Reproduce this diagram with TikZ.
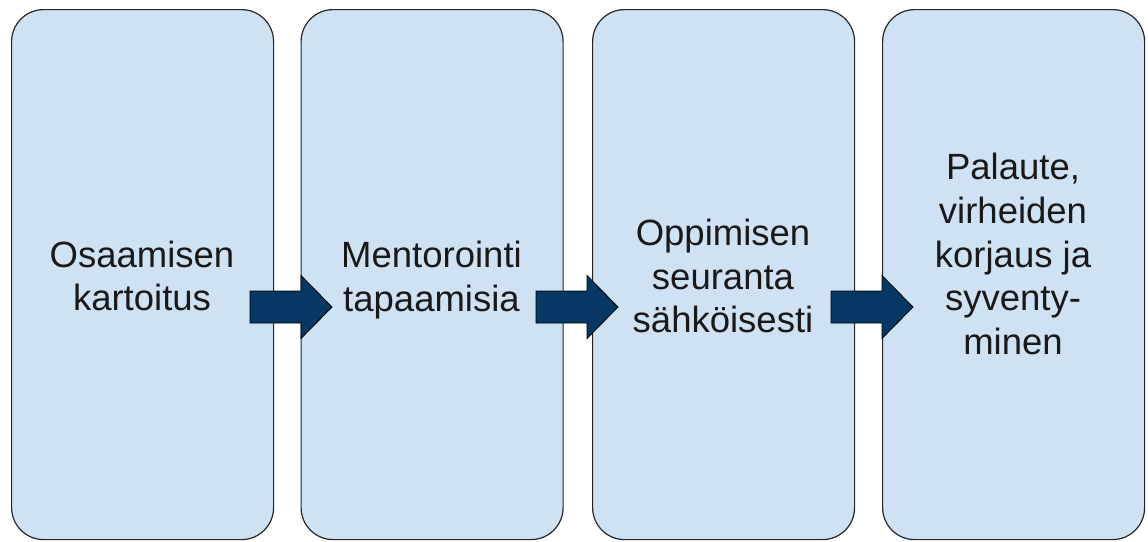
\documentclass[tikz,border=0pt]{standalone}
\usepackage{fontspec}
\setmainfont{Liberation Sans}
\definecolor{boxfill}{HTML}{CFE2F3}
\definecolor{arrowfill}{HTML}{073763}
\begin{document}
\begin{tikzpicture}[x=1pt,y=-1pt,
  stage/.style={draw=black!85, line width=1.2pt, fill=boxfill, rounded corners=32pt,
    minimum width=262pt, minimum height=530pt, inner sep=0pt, anchor=north west},
  steplabel/.style={align=center, font=\fontsize{36.5}{43.75}\selectfont, text=black!90, inner sep=0pt},
  blockarrow/.style={draw=black, line width=0.8pt, fill=arrowfill, line join=miter},
  flow/.pic={\draw[blockarrow] (0,-16) -- (51,-16) -- (51,-31.5) -- (82,0) -- (51,31.5) -- (51,16) -- (0,16) -- cycle;}]
\useasboundingbox (0,0) rectangle (1148,541);
\node[stage] (b1) at (11,9) {};
\node[stage] (b2) at (300.5,9) {};
\node[stage] (b3) at (592,9) {};
\node[stage] (b4) at (882,9) {};
\node[steplabel] (t1) at (142,276) {Osaamisen\\kartoitus};
\node[steplabel] (t2) at (431.5,280) {Mentorointi\\tapaamisia};
\node[steplabel] (t3) at (723,276) {Oppimisen\\seuranta\\sähköisesti};
\node[steplabel] (t4) at (1013,254) {Palaute,\\virheiden\\korjaus ja\\syventy-\\minen};
\coordinate (a1) at (250,307);
\coordinate (a2) at (536,307);
\coordinate (a3) at (831,307);
\pic at (a1) {flow};
\pic at (a2) {flow};
\pic at (a3) {flow};
\end{tikzpicture}
\end{document}
